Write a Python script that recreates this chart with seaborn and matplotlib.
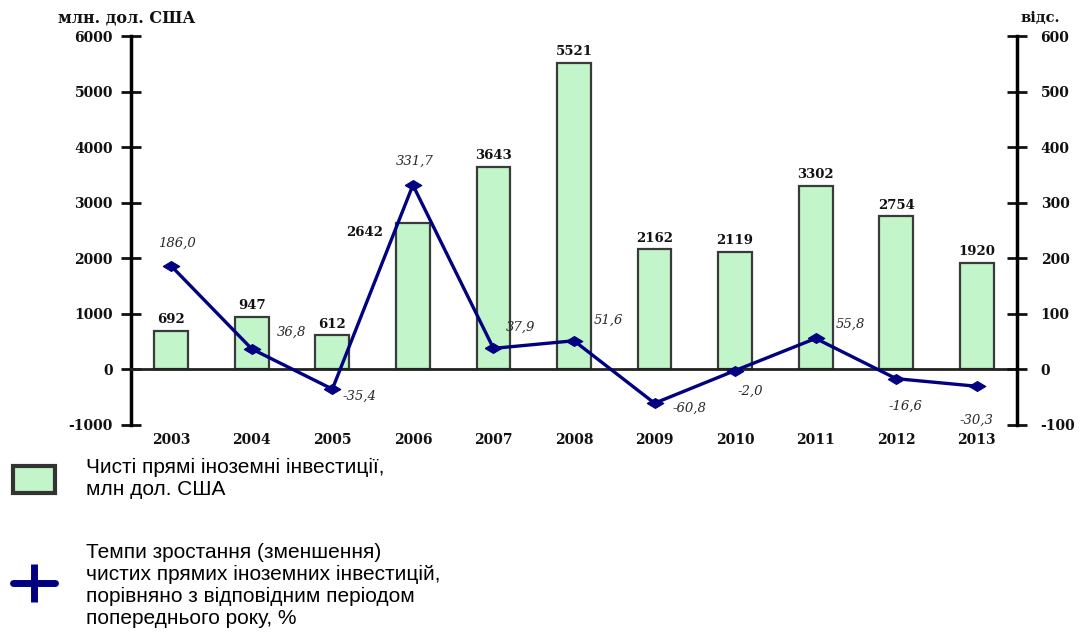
import numpy as np
import pandas as pd
import matplotlib
matplotlib.use("Agg")
import matplotlib.pyplot as plt
from matplotlib.patches import Patch
from matplotlib.lines import Line2D
from matplotlib.ticker import FixedLocator, NullFormatter
import seaborn as sns

# ---- data ----
years = ["2003", "2004", "2005", "2006", "2007", "2008", "2009", "2010", "2011", "2012", "2013"]
fdi = [692, 947, 612, 2642, 3643, 5521, 2162, 2119, 3302, 2754, 1920]
growth = [186.0, 36.8, -35.4, 331.7, 37.9, 51.6, -60.8, -2.0, 55.8, -16.6, -30.3]
growth_labels = ["186,0", "36,8", "-35,4", "331,7", "37,9", "51,6", "-60,8", "-2,0", "55,8", "-16,6", "-30,3"]
left_ticks = [-1000, 0, 1000, 2000, 3000, 4000, 5000, 6000]
right_ticks = [-100, 0, 100, 200, 300, 400, 500, 600]
left_unit = "млн. дол. США"
right_unit = "відс."
legend_bar = "Чисті прямі іноземні інвестиції,\nмлн дол. США"
legend_line = ("Темпи зростання (зменшення)\nчистих прямих іноземних інвестицій,\n"
               "порівняно з відповідним періодом\nпопереднього року, %")

# label offsets in pixels (styling)
growth_off = [(6, 23), (40, 17), (27, -7), (2, 24), (27, 21), (34, 20),
              (35, -5), (15, -21), (35, 14), (9, -28), (0, -34)]
bar_off = [(0, 11)] * 11
bar_off[3] = (-48, -10)

sns.set_theme(style="white")
plt.rcParams["font.family"] = ["DejaVu Serif", "Liberation Serif"]

BAR_FILL = "#C2F5C9"
BAR_EDGE = "#3a3a3a"
LINE_C = "#000080"
TXT = "#111111"

fig = plt.figure(figsize=(10.85, 6.42), dpi=100)
ax = fig.add_axes([131 / 1085, 1 - 425 / 642, (1017 - 131) / 1085, (425 - 36) / 642])

df = pd.DataFrame({"year": years, "fdi": fdi})
sns.barplot(data=df, x="year", y="fdi", ax=ax, color=BAR_FILL, saturation=1,
            edgecolor=BAR_EDGE, linewidth=1.6, width=0.42)

ax.set_xlim(-0.5, len(years) - 0.5)
ax.set_ylim(-1000, 6000)
ax.set_yticks(left_ticks)
ax.set_yticklabels([str(t) for t in left_ticks], fontweight="bold", fontsize=10)
ax.set_xlabel("")
ax.set_ylabel("")

for s in ["top", "right"]:
    ax.spines[s].set_visible(False)
ax.spines["left"].set_linewidth(2.5)
ax.spines["left"].set_color("black")
ax.spines["bottom"].set_position(("data", 0))
ax.spines["bottom"].set_linewidth(2.0)
ax.spines["bottom"].set_color("#222222")

ax.tick_params(axis="y", direction="inout", length=14, width=2.0, pad=6, colors=TXT)
ax.tick_params(axis="x", which="major", length=0, pad=46, colors=TXT)
ax.xaxis.set_minor_locator(FixedLocator(np.arange(0.5, len(years) - 1, 1.0)))
ax.xaxis.set_minor_formatter(NullFormatter())
ax.tick_params(axis="x", which="minor", direction="inout", length=9, width=2.8, color="#222222")
for lab in ax.get_xticklabels():
    lab.set_fontweight("bold")
    lab.set_fontsize(10)

for i, v in enumerate(fdi):
    ax.annotate(str(v), xy=(i, v), xytext=bar_off[i], textcoords="offset pixels",
                ha="center", va="center", fontsize=9.5, fontweight="bold", color=TXT)

wide_diamond = [(-1.0, 0.0), (0.0, 0.6), (1.0, 0.0), (0.0, -0.6), (-1.0, 0.0)]
ax2 = ax.twinx()
sns.lineplot(x=np.arange(len(years)), y=growth, ax=ax2, color=LINE_C, linewidth=2.4,
             marker=wide_diamond, markersize=12, markeredgecolor=LINE_C, markerfacecolor=LINE_C)
ax2.set_ylim(-100, 600)
ax2.set_yticks(right_ticks)
ax2.set_yticklabels([str(t) for t in right_ticks], fontweight="bold", fontsize=10)
ax2.set_xlim(-0.5, len(years) - 0.5)
for s in ["top", "left", "bottom"]:
    ax2.spines[s].set_visible(False)
ax2.spines["right"].set_linewidth(2.5)
ax2.spines["right"].set_color("black")
ax2.tick_params(axis="y", direction="inout", length=14, width=2.0, pad=10, colors=TXT)
ax2.set_ylabel("")

for i, v in enumerate(growth):
    ax2.annotate(growth_labels[i], xy=(i, v), xytext=growth_off[i], textcoords="offset pixels",
                 ha="center", va="center", fontsize=9.5, fontstyle="italic", color="#2a2a2a")

fig.text(58 / 1085, 1 - 18 / 642, left_unit, ha="left", va="center",
         fontsize=11.5, fontweight="bold", color=TXT)
fig.text(1020 / 1085, 1 - 18 / 642, right_unit, ha="left", va="center",
         fontsize=10.5, fontweight="bold", color=TXT)

handles = [
    Patch(facecolor=BAR_FILL, edgecolor="#333333", linewidth=3),
    Line2D([0], [0], color=LINE_C, linewidth=5, marker="|", markersize=28,
           markeredgewidth=5, markeredgecolor=LINE_C),
]
leg = fig.legend(handles, [legend_bar, legend_line], loc="upper left",
                 bbox_to_anchor=(13 / 1085, 1 - 458 / 642), frameon=False,
                 prop={"family": "Liberation Sans", "size": 15},
                 handlelength=2.0, handleheight=1.6, handletextpad=1.5,
                 labelspacing=2.1, borderpad=0, borderaxespad=0)
for t in leg.get_texts():
    t.set_linespacing(1.2)
    t.set_color("black")

fig.savefig("out.png", dpi=100, facecolor="white")
